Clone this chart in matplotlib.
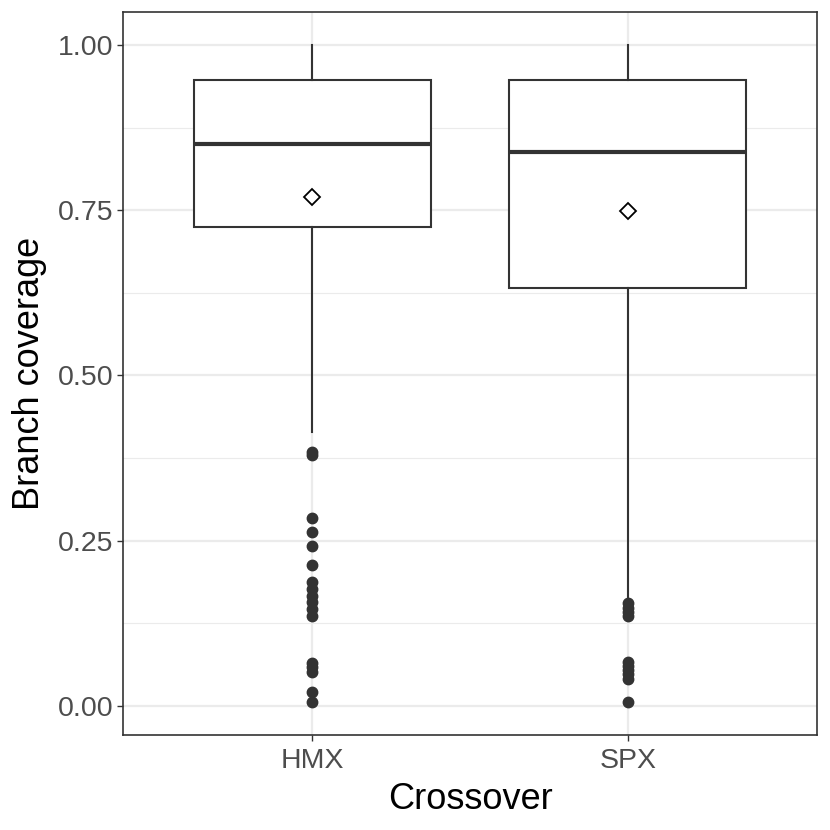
import matplotlib
matplotlib.use("Agg")
import matplotlib.pyplot as plt
from matplotlib.ticker import MultipleLocator

plt.rcParams['font.family'] = ['Liberation Sans', 'DejaVu Sans']

categories = ["HMX", "SPX"]
q1 = [0.724, 0.633]
medians = [0.850, 0.838]
q3 = [0.947, 0.947]
whisker_low = [0.415, 0.162]
whisker_high = [1.0, 1.0]
means = [0.770, 0.749]
outliers = [
    [0.385, 0.379, 0.285, 0.263, 0.242, 0.213, 0.187, 0.177, 0.166, 0.157,
     0.147, 0.136, 0.065, 0.059, 0.051, 0.021, 0.006],
    [0.156, 0.148, 0.142, 0.136, 0.066, 0.060, 0.054, 0.048, 0.041, 0.006],
]
yticks = [0.0, 0.25, 0.5, 0.75, 1.0]
yticklabels = ["0.00", "0.25", "0.50", "0.75", "1.00"]

stats = []
for i, c in enumerate(categories):
    stats.append(dict(label=c, q1=q1[i], med=medians[i], q3=q3[i],
                      whislo=whisker_low[i], whishi=whisker_high[i],
                      fliers=outliers[i], mean=means[i]))

fig = plt.figure(figsize=(8.3, 8.3), dpi=100)
ax = fig.add_axes([123/830, (830-735)/830, (817-123)/830, (735-12)/830])

dark = "#333333"
positions = [1, 2]
ax.bxp(stats, positions=positions, widths=0.75, showmeans=False, showcaps=False,
       patch_artist=True,
       boxprops=dict(facecolor="white", edgecolor=dark, linewidth=1.5),
       medianprops=dict(color=dark, linewidth=3.0, solid_capstyle="butt"),
       whiskerprops=dict(color=dark, linewidth=1.5),
       flierprops=dict(marker="o", markerfacecolor=dark, markeredgecolor=dark,
                       markersize=7.5, linestyle="none"),
       zorder=3)
ax.plot(positions, means, linestyle="none", marker="D", markersize=8,
        markerfacecolor="white", markeredgecolor="black", markeredgewidth=1.3, zorder=5)

ax.set_xlim(0.4, 2.6)
ax.set_ylim(-0.0437, 1.0497)
ax.set_yticks(yticks)
ax.set_yticklabels(yticklabels)
ax.set_xticks(positions)
ax.set_xticklabels(categories)
ax.yaxis.set_minor_locator(MultipleLocator(0.125))
ax.grid(True, which="major", color="#EBEBEB", linewidth=1.6, zorder=0)
ax.grid(True, which="minor", axis="y", color="#EBEBEB", linewidth=0.8, zorder=0)
ax.set_axisbelow(True)
ax.tick_params(axis="both", which="major", length=4, width=1.0, color=dark,
               labelsize=20.5, labelcolor="#4D4D4D", pad=3)
ax.tick_params(axis="x", which="major", pad=5)
ax.tick_params(axis="y", which="minor", length=0)
for s in ax.spines.values():
    s.set_color(dark)
    s.set_linewidth(1.2)
ax.set_xlabel("Crossover", fontsize=26, color="black", labelpad=6)
ax.set_ylabel("Branch coverage", fontsize=26, color="black", labelpad=8)

fig.savefig("out.png", dpi=100, facecolor="white")
